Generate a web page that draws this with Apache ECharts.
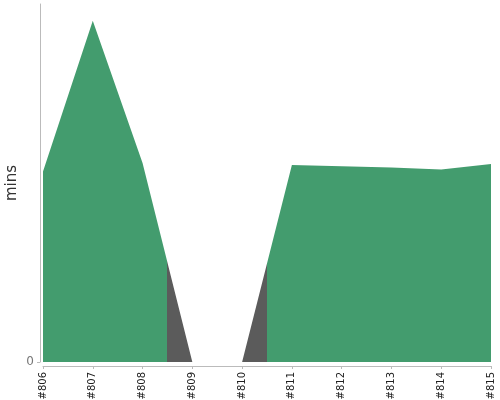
<!DOCTYPE html>
<html>
<head>
<meta charset="utf-8">
<script src="https://cdn.jsdelivr.net/npm/echarts@6/dist/echarts.min.js"></script>
<style>html,body{margin:0;padding:0;background:#fff}#c{width:500px;height:400px}</style>
</head>
<body>
<div id="c"></div>
<script>
var categories = ['#806','#807','#808','#809','#810','#811','#812','#813','#814','#815'];
var durations = [5.32, 9.53, 5.56, 0, 0, 5.50, 5.47, 5.43, 5.38, 5.53];
var yTickValues = [0];
var failedRange = [2.5, 4.5];
var okColor = '#439c6e';
var failColor = '#5b5b5b';

var span = categories.length - 1;
var f0 = failedRange[0] / span, f1 = failedRange[1] / span;
var areaFill = new echarts.graphic.LinearGradient(0, 0, 1, 0, [
  { offset: 0, color: okColor },
  { offset: f0, color: okColor },
  { offset: f0, color: failColor },
  { offset: f1, color: failColor },
  { offset: f1, color: okColor },
  { offset: 1, color: okColor }
]);

var chart = echarts.init(document.getElementById('c'));
chart.setOption({
  animation: false,
  grid: { left: 43, right: 9, top: 4, bottom: 38, outerBoundsMode: 'none', containLabel: false },
  xAxis: {
    type: 'category',
    data: categories,
    boundaryGap: false,
    offset: 4,
    axisLine: { onZero: false, lineStyle: { color: '#bbbbbb', width: 1 } },
    axisTick: { show: true, length: 3, interval: 0, lineStyle: { color: '#bbbbbb' } },
    axisLabel: { interval: 0, rotate: 90, margin: 6, fontSize: 10, color: '#222', fontFamily: 'DejaVu Sans' }
  },
  yAxis: {
    type: 'value',
    min: 0,
    max: 10,
    offset: 3,
    name: 'mins',
    nameLocation: 'middle',
    nameGap: 20,
    nameMoveOverlap: false,
    nameTextStyle: { fontSize: 15, color: '#333', fontFamily: 'DejaVu Sans' },
    axisLine: { show: true, onZero: false, lineStyle: { color: '#bbbbbb', width: 1 } },
    axisTick: { show: true, length: 3, customValues: yTickValues, lineStyle: { color: '#bbbbbb' } },
    axisLabel: { customValues: yTickValues, margin: 6, fontSize: 12, color: '#777', fontFamily: 'DejaVu Sans' },
    splitLine: { show: false }
  },
  series: [{
    type: 'line',
    data: durations,
    symbol: 'none',
    lineStyle: { width: 0 },
    itemStyle: { color: okColor },
    areaStyle: { opacity: 1, color: areaFill }
  }]
});
</script>
</body>
</html>
